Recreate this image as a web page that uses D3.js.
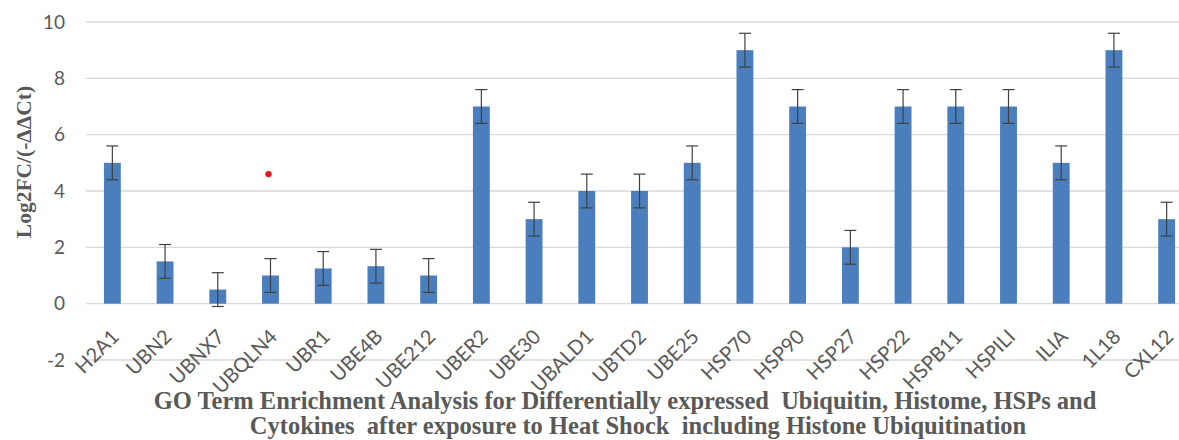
<!DOCTYPE html>
<html>
<head>
<meta charset="utf-8">
<script src="https://cdn.jsdelivr.net/npm/d3@7"></script>
<style>
  body { margin: 0; background: #fff; }
  svg { display: block; }
</style>
</head>
<body>
<svg id="chart" width="1179" height="440"></svg>
<script>
// genes on the x axis
const genes = ["H2A1", "UBN2", "UBNX7", "UBQLN4", "UBR1", "UBE4B", "UBE212", "UBER2", "UBE30", "UBALD1",
  "UBTD2", "UBE25", "HSP70", "HSP90", "HSP27", "HSP22", "HSPB11", "HSPILI", "ILIA", "1L18", "CXL12"];
// log2 fold change
const values = [5, 1.5, 0.5, 1, 1.25, 1.33, 1, 7, 3, 4, 4, 5, 9, 7, 2, 7, 7, 7, 5, 9, 3];
// error bar half length
const errors = [0.6, 0.6, 0.6, 0.6, 0.6, 0.6, 0.6, 0.6, 0.6, 0.6, 0.6, 0.6, 0.6, 0.6, 0.6, 0.6, 0.6, 0.6, 0.6, 0.6, 0.6];
const yTicks = [-2, 0, 2, 4, 6, 8, 10];
// the stray red point
const marker = { gene: "UBQLN4", value: 4.6 };

const svg = d3.select("#chart");

const x = d3.scaleBand()
    .domain(genes)
    .range([86, 1193])
    .paddingInner(0.68)
    .paddingOuter(0.34);

const y = d3.scaleLinear()
    .domain([-2, 10])
    .range([360, 22]);

// grid lines
svg.append("g")
  .selectAll("line")
  .data(yTicks)
  .enter().append("line")
    .attr("x1", 86)
    .attr("x2", 1179)
    .attr("y1", d => y(d))
    .attr("y2", d => y(d))
    .attr("stroke", "#d9d9d9")
    .attr("stroke-width", 1.3);

// y axis labels
svg.append("g")
    .attr("transform", "translate(65,0)")
    .call(d3.axisLeft(y).tickValues(yTicks).tickFormat(d => String(d)).tickSize(0).tickPadding(0))
    .call(g => g.select(".domain").remove())
    .selectAll("text")
    .attr("font-family", "Lato, sans-serif")
    .attr("font-size", 19)
    .attr("fill", "#595959");

// bars
svg.append("g")
  .selectAll("rect")
  .data(genes)
  .enter().append("rect")
    .attr("x", (d) => x(d))
    .attr("y", (d, i) => y(values[i]))
    .attr("width", x.bandwidth())
    .attr("height", (d, i) => y(0) - y(values[i]))
    .attr("fill", "#4a7ebd");

// error bars
const err = svg.append("g")
    .attr("stroke", "#404040")
    .attr("stroke-width", 1.2);
genes.forEach((g, i) => {
  const cx = x(g) + x.bandwidth() / 2;
  const top = y(values[i] + errors[i]);
  const bot = y(values[i] - errors[i]);
  err.append("line").attr("x1", cx).attr("x2", cx).attr("y1", top).attr("y2", bot);
  err.append("line").attr("x1", cx - 6).attr("x2", cx + 6).attr("y1", top).attr("y2", top);
  err.append("line").attr("x1", cx - 6).attr("x2", cx + 6).attr("y1", bot).attr("y2", bot);
});

// red point
svg.append("circle")
    .attr("cx", x(marker.gene) + x.bandwidth() / 2 - 2)
    .attr("cy", y(marker.value))
    .attr("r", 3.2)
    .attr("fill", "#e8151b");

// x axis labels, rotated 45 degrees
svg.append("g")
  .selectAll("text")
  .data(genes)
  .enter().append("text")
    .attr("transform", d => `translate(${x(d) + x.bandwidth() / 2 + 3},333) rotate(-45)`)
    .attr("text-anchor", "end")
    .attr("dy", "0.35em")
    .attr("font-family", "Lato, sans-serif")
    .attr("font-size", 20)
    .attr("fill", "#595959")
    .text(d => d);

// y axis title
svg.append("text")
    .attr("transform", "translate(31,162) rotate(-90)")
    .attr("text-anchor", "middle")
    .attr("font-family", "'Liberation Serif', 'Times New Roman', serif")
    .attr("font-weight", "bold")
    .attr("font-size", 21.5)
    .attr("fill", "#595959")
    .text("Log2FC/(-ΔΔCt)");

// x axis title
const title = svg.append("text")
    .attr("text-anchor", "middle")
    .attr("font-family", "'Liberation Serif', 'Times New Roman', serif")
    .attr("font-weight", "bold")
    .attr("font-size", 24.5)
    .attr("fill", "#595959")
    .attr("xml:space", "preserve");
title.append("tspan").attr("x", 625).attr("y", 409)
    .text("GO Term Enrichment Analysis for Differentially expressed  Ubiquitin, Histome, HSPs and");
title.append("tspan").attr("x", 638).attr("y", 434)
    .text("Cytokines  after exposure to Heat Shock  including Histone Ubiquitination");
</script>
</body>
</html>
